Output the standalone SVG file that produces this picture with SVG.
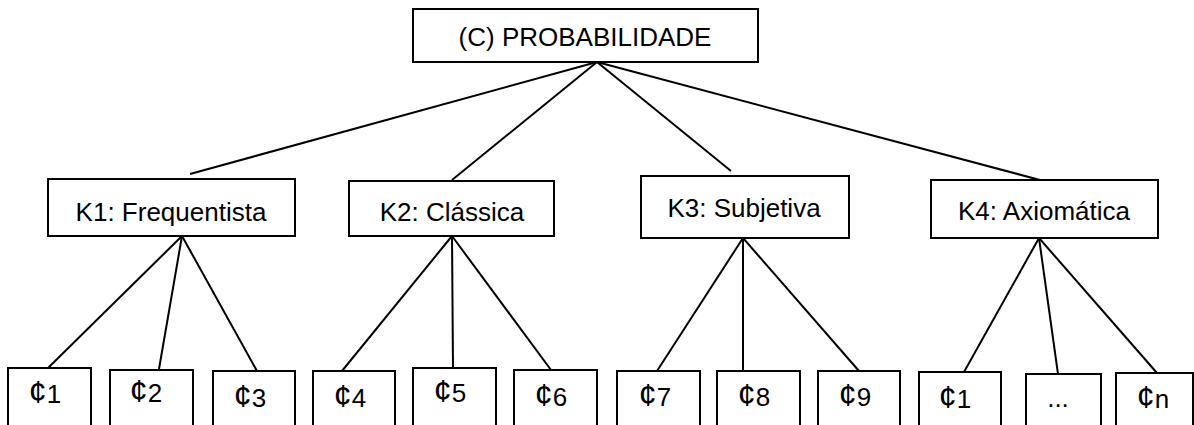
<svg xmlns="http://www.w3.org/2000/svg" width="1194" height="425" viewBox="0 0 1194 425">
<style>
rect{fill:#fff;stroke:#000;stroke-width:2}
text{font-family:"Liberation Sans",Arial,sans-serif;font-size:26px;fill:#000;text-anchor:middle}
.c{font-size:32px}
#edges line{stroke:#000;stroke-width:2}
</style>
<rect x="0" y="0" width="1194" height="425" style="stroke:none"/>
<g id="edges">
<line x1="597" y1="62" x2="190" y2="174"/>
<line x1="597" y1="62" x2="452" y2="180"/>
<line x1="597" y1="62" x2="731" y2="171"/>
<line x1="597" y1="62" x2="1040" y2="180"/>
<line x1="182" y1="236" x2="48" y2="368"/>
<line x1="182" y1="236" x2="159" y2="369"/>
<line x1="182" y1="236" x2="257" y2="371"/>
<line x1="452" y1="236" x2="342" y2="371"/>
<line x1="452" y1="236" x2="453" y2="368"/>
<line x1="452" y1="236" x2="551" y2="370"/>
<line x1="743" y1="238" x2="657" y2="371"/>
<line x1="743" y1="238" x2="743" y2="371"/>
<line x1="743" y1="238" x2="859" y2="371"/>
<line x1="1039" y1="238" x2="964" y2="372"/>
<line x1="1039" y1="238" x2="1058" y2="374"/>
<line x1="1039" y1="238" x2="1157" y2="373"/>
</g>
<g id="root"><rect x="413" y="9" width="345" height="53"/><text x="585" y="46">(C) PROBABILIDADE</text></g>
<g id="k1"><rect x="48" y="179" width="247" height="57"/><text x="171" y="221">K1: Frequentista</text></g>
<g id="k2"><rect x="349" y="181" width="205" height="55"/><text x="452" y="221">K2: Clássica</text></g>
<g id="k3"><rect x="641" y="176" width="208" height="62"/><text x="744" y="217">K3: Subjetiva</text></g>
<g id="k4"><rect x="931" y="180" width="227" height="58"/><text x="1044" y="220">K4: Axiomática</text></g>
<g id="c1"><rect x="8" y="368" width="83" height="70"/><text x="45" y="403"><tspan class="c">¢</tspan>1</text></g>
<g id="c2"><rect x="110" y="370" width="83" height="70"/><text x="146" y="402"><tspan class="c">¢</tspan>2</text></g>
<g id="c3"><rect x="213" y="371" width="82" height="70"/><text x="250" y="407"><tspan class="c">¢</tspan>3</text></g>
<g id="c4"><rect x="313" y="371" width="82" height="70"/><text x="350" y="407"><tspan class="c">¢</tspan>4</text></g>
<g id="c5"><rect x="413" y="368" width="83" height="70"/><text x="450" y="402"><tspan class="c">¢</tspan>5</text></g>
<g id="c6"><rect x="514" y="370" width="83" height="70"/><text x="551" y="406"><tspan class="c">¢</tspan>6</text></g>
<g id="c7"><rect x="617" y="371" width="83" height="70"/><text x="655" y="406"><tspan class="c">¢</tspan>7</text></g>
<g id="c8"><rect x="717" y="371" width="83" height="70"/><text x="754" y="406"><tspan class="c">¢</tspan>8</text></g>
<g id="c9"><rect x="818" y="371" width="82" height="70"/><text x="855" y="406"><tspan class="c">¢</tspan>9</text></g>
<g id="c1b"><rect x="919" y="372" width="82" height="70"/><text x="955" y="408"><tspan class="c">¢</tspan>1</text></g>
<g id="cdots"><rect x="1026" y="374" width="75" height="70"/><text x="1058" y="407">...</text></g>
<g id="cn"><rect x="1116" y="373" width="77" height="70"/><text x="1153" y="408"><tspan class="c">¢</tspan>n</text></g>
</svg>
